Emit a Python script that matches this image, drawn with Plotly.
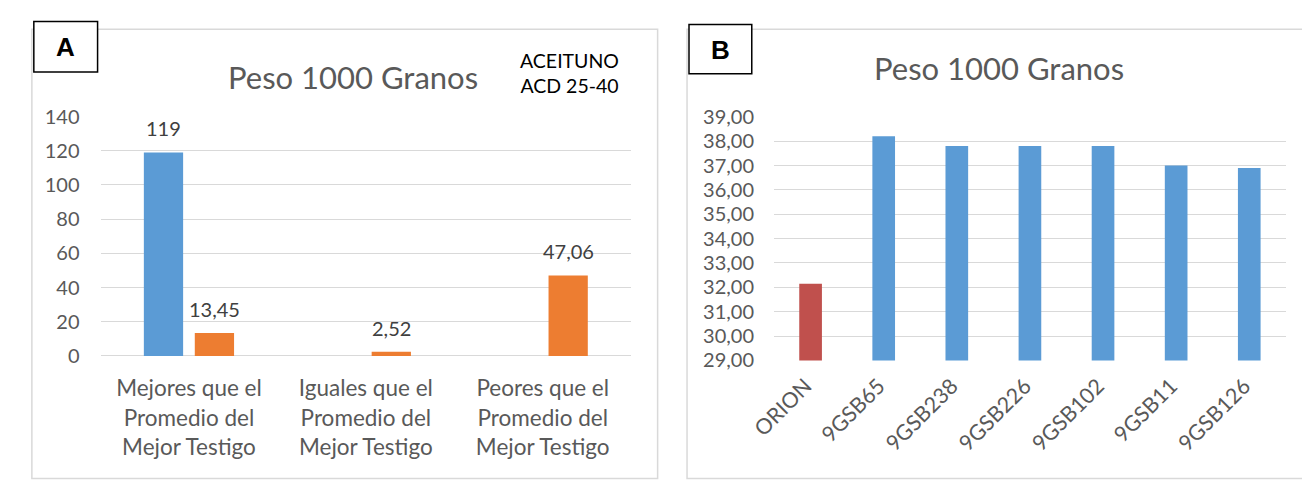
import plotly.graph_objects as go

# ---- data ----
cats_a = ["Mejores que el<br>Promedio del<br>Mejor Testigo",
          "Iguales que el<br>Promedio del<br>Mejor Testigo",
          "Peores que el<br>Promedio del<br>Mejor Testigo"]
serie_azul_a = [119, None, None]
serie_naranja_a = [13.45, 2.52, 47.06]

cats_b = ["ORION", "9GSB65", "9GSB238", "9GSB226", "9GSB102", "9GSB11", "9GSB126"]
peso_b = [32.15, 38.2, 37.8, 37.8, 37.8, 37.0, 36.9]
colores_b = ["#C0504D"] + ["#5B9BD5"] * 6

W, H = 1302, 480
FONT = "Lato"
GRID = "#D9D9D9"
TXT = "#595959"


def px(x):
    return x / W


def py(y):
    return 1 - y / H


def etiqueta(v):
    return str(int(v)) if float(v).is_integer() else f"{v:.2f}".replace(".", ",")


# grouped-bar geometry for panel A (category units)
bar_w = 0.222
half_slot = 0.144

fig = go.Figure()

idx_a = list(range(len(cats_a)))
fig.add_trace(go.Bar(x=idx_a, y=serie_azul_a, width=bar_w, offset=-half_slot - bar_w / 2,
                     marker=dict(color="#5B9BD5", line=dict(width=0)),
                     xaxis="x", yaxis="y", showlegend=False, hoverinfo="skip"))
fig.add_trace(go.Bar(x=idx_a, y=serie_naranja_a, width=bar_w, offset=half_slot - bar_w / 2,
                     marker=dict(color="#ED7D31", line=dict(width=0)),
                     xaxis="x", yaxis="y", showlegend=False, hoverinfo="skip"))

idx_b = list(range(len(cats_b)))
fig.add_trace(go.Bar(x=idx_b, y=peso_b, width=0.31,
                     marker=dict(color=colores_b, line=dict(width=0)),
                     xaxis="x2", yaxis="y2", showlegend=False, hoverinfo="skip"))

annotations = []
# value labels above panel A bars
for serie, sign in ((serie_azul_a, -1), (serie_naranja_a, 1)):
    for i, v in enumerate(serie):
        if v is None:
            continue
        annotations.append(dict(x=i + sign * half_slot, y=v, xref="x", yref="y",
                                text=etiqueta(v), showarrow=False, xanchor="center",
                                yanchor="bottom", yshift=10,
                                font=dict(family=FONT, size=20, color="#404040")))

# chart titles
for cx, cy in ((334, 67), (993, 58)):
    annotations.append(dict(x=px(cx), y=py(cy), xref="paper", yref="paper",
                            text="Peso 1000 Granos", showarrow=False,
                            xanchor="center", yanchor="middle",
                            font=dict(family=FONT, size=31, color=TXT)))
annotations.append(dict(x=px(555), y=py(63), xref="paper", yref="paper",
                        text="ACEITUNO<br>ACD 25-40", showarrow=False, align="center",
                        xanchor="center", yanchor="middle",
                        font=dict(family=FONT, size=19.5, color="#000000")))
# panel letters
for letra, cx, cy in (("A", 41.5, 36), ("B", 709, 38.5)):
    annotations.append(dict(x=px(cx), y=py(cy), xref="paper", yref="paper",
                            text=f"<b>{letra}</b>", showarrow=False,
                            xanchor="center", yanchor="middle",
                            font=dict(family="Liberation Sans", size=26, color="#000")))

shapes = [
    # panel frames
    dict(type="rect", xref="paper", yref="paper", x0=px(7), x1=px(645), y0=py(490), y1=py(17),
         line=dict(color=GRID, width=1.5), fillcolor="rgba(0,0,0,0)", layer="below"),
    dict(type="rect", xref="paper", yref="paper", x0=px(675), x1=px(1320), y0=py(490), y1=py(17),
         line=dict(color=GRID, width=1.5), fillcolor="rgba(0,0,0,0)", layer="below"),
    # letter boxes
    dict(type="rect", xref="paper", yref="paper", x0=px(9), x1=px(74), y0=py(62), y1=py(9),
         line=dict(color="#000", width=1.5), fillcolor="#FFFFFF", layer="above"),
    dict(type="rect", xref="paper", yref="paper", x0=px(677), x1=px(741), y0=py(64), y1=py(12),
         line=dict(color="#000", width=1.5), fillcolor="#FFFFFF", layer="above"),
]

numfont = dict(family=FONT, size=20, color=TXT)

fig.update_layout(
    width=W, height=H,
    margin=dict(l=0, r=0, t=0, b=0),
    paper_bgcolor="#FFFFFF", plot_bgcolor="rgba(0,0,0,0)",
    separators=",.",
    barmode="overlay",
    showlegend=False,
    annotations=annotations,
    shapes=shapes,
    xaxis=dict(domain=[px(77), px(618)], range=[-0.5, 2.5], tickvals=idx_a, ticktext=cats_a,
               showgrid=False, zeroline=False, showline=False, ticks="",
               tickfont=dict(family=FONT, size=22.5, color=TXT), ticklabelstandoff=17,
               fixedrange=True),
    yaxis=dict(domain=[py(361), py(109)], range=[0, 140], dtick=20, tick0=0,
               showgrid=True, gridcolor=GRID, gridwidth=1.3, zeroline=True,
               zerolinecolor=GRID, zerolinewidth=1.3, showline=False, ticks="",
               tickfont=numfont, ticklabelstandoff=20, fixedrange=True),
    xaxis2=dict(domain=[px(763.7), px(1285.5)], range=[-0.5, 6.5], tickvals=idx_b,
                ticktext=cats_b, tickangle=-45, showgrid=False, zeroline=False, showline=False,
                ticks="", tickfont=dict(family=FONT, size=21.5, color=TXT),
                ticklabelstandoff=8, ticklabelshift=-5, fixedrange=True, anchor="y2"),
    yaxis2=dict(domain=[py(365.7), py(109.3)], range=[29, 39], dtick=1, tick0=29,
                tickformat=".2f", showgrid=True, gridcolor=GRID, gridwidth=1.3,
                zeroline=False, showline=False, ticks="", tickfont=numfont,
                ticklabelstandoff=19, fixedrange=True, anchor="x2"),
)

fig.write_html("out.html")
